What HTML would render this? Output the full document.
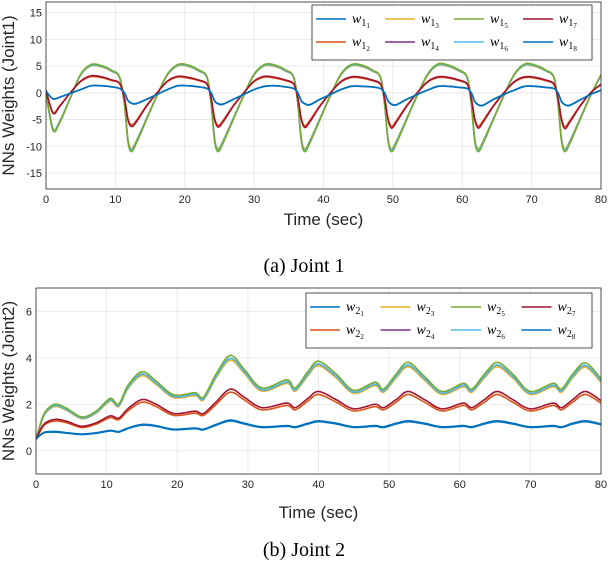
<!DOCTYPE html>
<html><head><meta charset="utf-8"><style>
html,body{margin:0;padding:0;background:#fff;width:608px;height:564px;overflow:hidden}
svg{display:block}
</style></head><body>
<svg id="fig" width="608" height="564" xmlns="http://www.w3.org/2000/svg" font-family="Liberation Sans, sans-serif">
<text x="304" y="272" text-anchor="middle" font-family="Liberation Serif, serif" font-size="20" fill="#000">(a) Joint 1</text>
<text x="304" y="556" text-anchor="middle" font-family="Liberation Serif, serif" font-size="20" fill="#000">(b) Joint 2</text>
</svg>
<script>
// ---- Chart 1 data ----
const t1 = [0,1,2,3.5,5,6.5,8,9.5,10.6,11.3,11.8,
12.3,13,14.5,16,17.5,19,20.5,22,23.2,23.8,24.3,
24.8,25.5,27,28.5,30,31.5,33,34.5,35.7,36.3,36.8,
37.3,38,39.5,41,42.5,44,45.5,47,48.2,48.8,49.3,
49.8,50.5,52,53.5,55,56.5,58,59.5,60.7,61.3,61.8,
62.3,63,64.5,66,67.5,69,70.5,72,73.2,73.8,74.3,
74.8,75.5,77,78.5,80];
const big1 = [0,-7,-5.5,-1,3.5,5.3,5.1,4.2,3,-2,-9,
-11,-9.5,-5,-0.5,3.5,5.3,5.2,4.3,3,-2,-9,
-11,-9.5,-5,-0.5,3.5,5.3,5.2,4.3,3,-2,-9,
-11,-9.5,-5,-0.5,3.5,5.3,5.2,4.3,3,-2,-9,
-11,-9.5,-5,-0.5,3.5,5.4,5.2,4.3,3,-2,-9,
-11,-9.5,-5,-0.5,3.5,5.4,5.2,4.3,3,-2,-9,
-11,-9.5,-5,-0.5,3.4];
const mid1 = [0.5,-3.8,-2.5,0,2.2,3.2,3,2.4,1.8,-1,-5,
-6.3,-5.5,-2.5,0,2.2,3.1,2.9,2.4,1.7,-1,-5,
-6.4,-5.5,-2.5,0,2.2,3.1,2.9,2.4,1.7,-1,-5,
-6.5,-5.5,-2.5,0,2.1,3.0,2.9,2.4,1.7,-1,-5,
-6.6,-5.5,-2.5,0,2.1,3.0,2.9,2.4,1.7,-1,-5,
-6.6,-5.5,-2.5,0,2.1,3.0,2.9,2.4,1.7,-1,-5,
-6.7,-5.5,-2.5,0,1.6];
const small1 = [0.3,-1.1,-0.8,-0.1,0.6,1.3,1.3,1.1,0.8,0,-1.4,
-1.9,-2.0,-1.2,-0.3,0.6,1.3,1.3,1.1,0.8,0,-1.5,
-2.0,-2.1,-1.2,-0.3,0.6,1.2,1.3,1.1,0.8,0,-1.5,
-2.0,-2.2,-1.2,-0.3,0.6,1.2,1.2,1.1,0.8,0,-1.5,
-2.1,-2.2,-1.2,-0.3,0.5,1.2,1.2,1.0,0.8,0,-1.6,
-2.2,-2.3,-1.2,-0.3,0.5,1.2,1.2,1.0,0.8,0,-1.6,
-2.2,-2.3,-1.3,-0.3,0.5];
const yTicks1 = [-15,-10,-5,0,5,10,15];
// ---- Chart 2 data ----
const t2 = [0,1,2,3,4.5,6.5,8.5,10.5,11.7,13,15,17,19.5,22.5,23.7,25.5,27.5,29.5,32,35.5,36.7,38.5,40,42.5,45,48,49.2,51,52.7,55,57.5,60.5,61.7,63.5,65.3,67.5,70,73.2,74.4,76,77.8,80];
const big2 = [0.5,1.5,1.9,2.0,1.8,1.45,1.7,2.25,2.0,2.8,3.4,3.0,2.4,2.5,2.3,3.3,4.1,3.5,2.7,3.05,2.7,3.4,3.85,3.3,2.6,2.95,2.65,3.3,3.8,3.2,2.55,2.9,2.65,3.3,3.8,3.3,2.55,2.9,2.65,3.3,3.78,3.1];
const mid2 = [0.5,1.1,1.3,1.35,1.25,1.05,1.2,1.5,1.4,1.8,2.2,2.0,1.6,1.7,1.6,2.1,2.65,2.3,1.85,2.05,1.85,2.25,2.55,2.2,1.8,2.0,1.85,2.2,2.55,2.2,1.8,2.05,1.85,2.2,2.55,2.2,1.8,2.05,1.85,2.2,2.55,2.15];
const small2 = [0.5,0.75,0.8,0.8,0.75,0.7,0.75,0.85,0.8,0.95,1.1,1.05,0.9,0.95,0.9,1.1,1.28,1.15,1.0,1.05,1.0,1.15,1.25,1.15,1.0,1.05,1.0,1.15,1.25,1.15,1.0,1.05,1.0,1.15,1.25,1.15,1.0,1.05,1.0,1.15,1.25,1.12];
const yTicks2 = [0,2,4,6];
const xTicks = [0,10,20,30,40,50,60,70,80];
// series: group and scale per series (w1..w8)
const seriesGroup = ['small','mid','big','big','big','big','mid','small'];
const seriesScale = [1.0,0.95,0.95,0.97,1.0,0.97,1.0,1.03];
const colors = ['#0072BD','#D95319','#EDB120','#7E2F8E','#77AC30','#4DBEEE','#A2142F','#0072BD'];
const drawOrder = [2,3,5,4,1,6,0,7];

const NS='http://www.w3.org/2000/svg';
const svg=document.getElementById('fig');
function mk(tag,attrs,parent){const e=document.createElementNS(NS,tag);for(const k in attrs)e.setAttribute(k,attrs[k]);(parent||svg).appendChild(e);return e;}
function smooth(pts){let d='M'+pts[0][0].toFixed(2)+','+pts[0][1].toFixed(2);
 for(let i=0;i<pts.length-1;i++){const p0=pts[Math.max(0,i-1)],p1=pts[i],p2=pts[i+1],p3=pts[Math.min(pts.length-1,i+2)];
 const c1=[p1[0]+(p2[0]-p0[0])/6,p1[1]+(p2[1]-p0[1])/6],c2=[p2[0]-(p3[0]-p1[0])/6,p2[1]-(p3[1]-p1[1])/6];
 d+=' C'+c1[0].toFixed(2)+','+c1[1].toFixed(2)+' '+c2[0].toFixed(2)+','+c2[1].toFixed(2)+' '+p2[0].toFixed(2)+','+p2[1].toFixed(2);}return d;}

function chart(cfg){
 const {x0,x1,y0,y1,ymin,ymax,yTicks,t,groups,prefix,id,xTitleY,legX,legY}=cfg;
 const X=v=>x0+(v-0)/(80-0)*(x1-x0), Y=v=>y1-(v-ymin)/(ymax-ymin)*(y1-y0);
 const g=mk('g',{});
 
 
 mk('rect',{x:x0,y:y0,width:x1-x0,height:y1-y0,fill:'#fff'},g);
 xTicks.forEach(v=>{const l=mk('line',{x1:X(v),x2:X(v),y1:y0,y2:y1,stroke:'#e5e5e5','stroke-width':0.8},g);
  
  const tx=mk('text',{x:X(v),y:y1+14,'text-anchor':'middle','font-size':11,fill:'#262626'},g);tx.textContent=v;
  });
 yTicks.forEach(v=>{const l=mk('line',{x1:x0,x2:x1,y1:Y(v),y2:Y(v),stroke:'#e5e5e5','stroke-width':0.8},g);
  
  const tx=mk('text',{x:x0-4,y:Y(v)+4,'text-anchor':'end','font-size':11,fill:'#262626'},g);tx.textContent=v;
  });
 const lg=mk('g',{'clip-path':'url(#clip'+id+')'},g);
 const cp=mk('clipPath',{id:'clip'+id},g);mk('rect',{x:x0,y:y0,width:x1-x0,height:y1-y0},cp);
 drawOrder.forEach(i=>{const base=groups[seriesGroup[i]];const s=seriesScale[i];
  const pts=t.map((tv,k)=>[X(tv),Y(base[k]*s)]);
  const p=mk('path',{d:smooth(pts),fill:'none',stroke:colors[i],'stroke-width':1.6},lg);
  
  });
 const box=mk('rect',{x:x0,y:y0,width:x1-x0,height:y1-y0,fill:'none',stroke:'#262626','stroke-width':0.8},g);
 
 const xt=mk('text',{x:(x0+x1)/2,y:xTitleY,'text-anchor':'middle','font-size':17,fill:'#262626'},g);xt.textContent='Time (sec)';
 
 const yc=(y0+y1)/2;
 const yt=mk('text',{x:14,y:yc,'text-anchor':'middle','font-size':17,fill:'#262626',transform:'rotate(-90 14 '+yc+')'},g);
 yt.textContent='NNs Weights (Joint'+prefix+')';
 
 // legend
 const leg=mk('g',{},g);
 
 mk('rect',{x:legX,y:legY,width:592-legX,height:55,fill:'#fff',stroke:'#262626','stroke-width':0.8},leg);
 const colW=(592-legX-4)/4;
 for(let i=0;i<8;i++){const col=Math.floor(i/2),row=i%2;const ex=legX+4+col*colW,ey=legY+14+row*23;
  const e=mk('g',{},leg);
  
  
  mk('line',{x1:ex,x2:ex+30,y1:ey,y2:ey,stroke:colors[i],'stroke-width':1.6},e);
  const tx=mk('text',{x:ex+36,y:ey+4,'font-size':14,'font-family':'Liberation Serif, serif','font-style':'italic',fill:'#000'},e);
  const a=mk('tspan',{},tx);a.textContent='w';
  const b=mk('tspan',{dy:3,'font-size':10,'font-style':'normal'},tx);b.textContent=prefix;
  const c=mk('tspan',{dy:2,'font-size':7,'font-style':'normal'},tx);c.textContent=(i+1);
 }
}
chart({x0:46,x1:601,y0:2,y1:189,ymin:-18,ymax:17,yTicks:yTicks1,t:t1,groups:{big:big1,mid:mid1,small:small1},prefix:'1',id:'j1',xTitleY:225,legX:312,legY:5});
chart({x0:36,x1:601,y0:288,y1:474,ymin:-1,ymax:7,yTicks:yTicks2,t:t2,groups:{big:big2,mid:mid2,small:small2},prefix:'2',id:'j2',xTitleY:518,legX:306,legY:293});
</script>
</body></html>
